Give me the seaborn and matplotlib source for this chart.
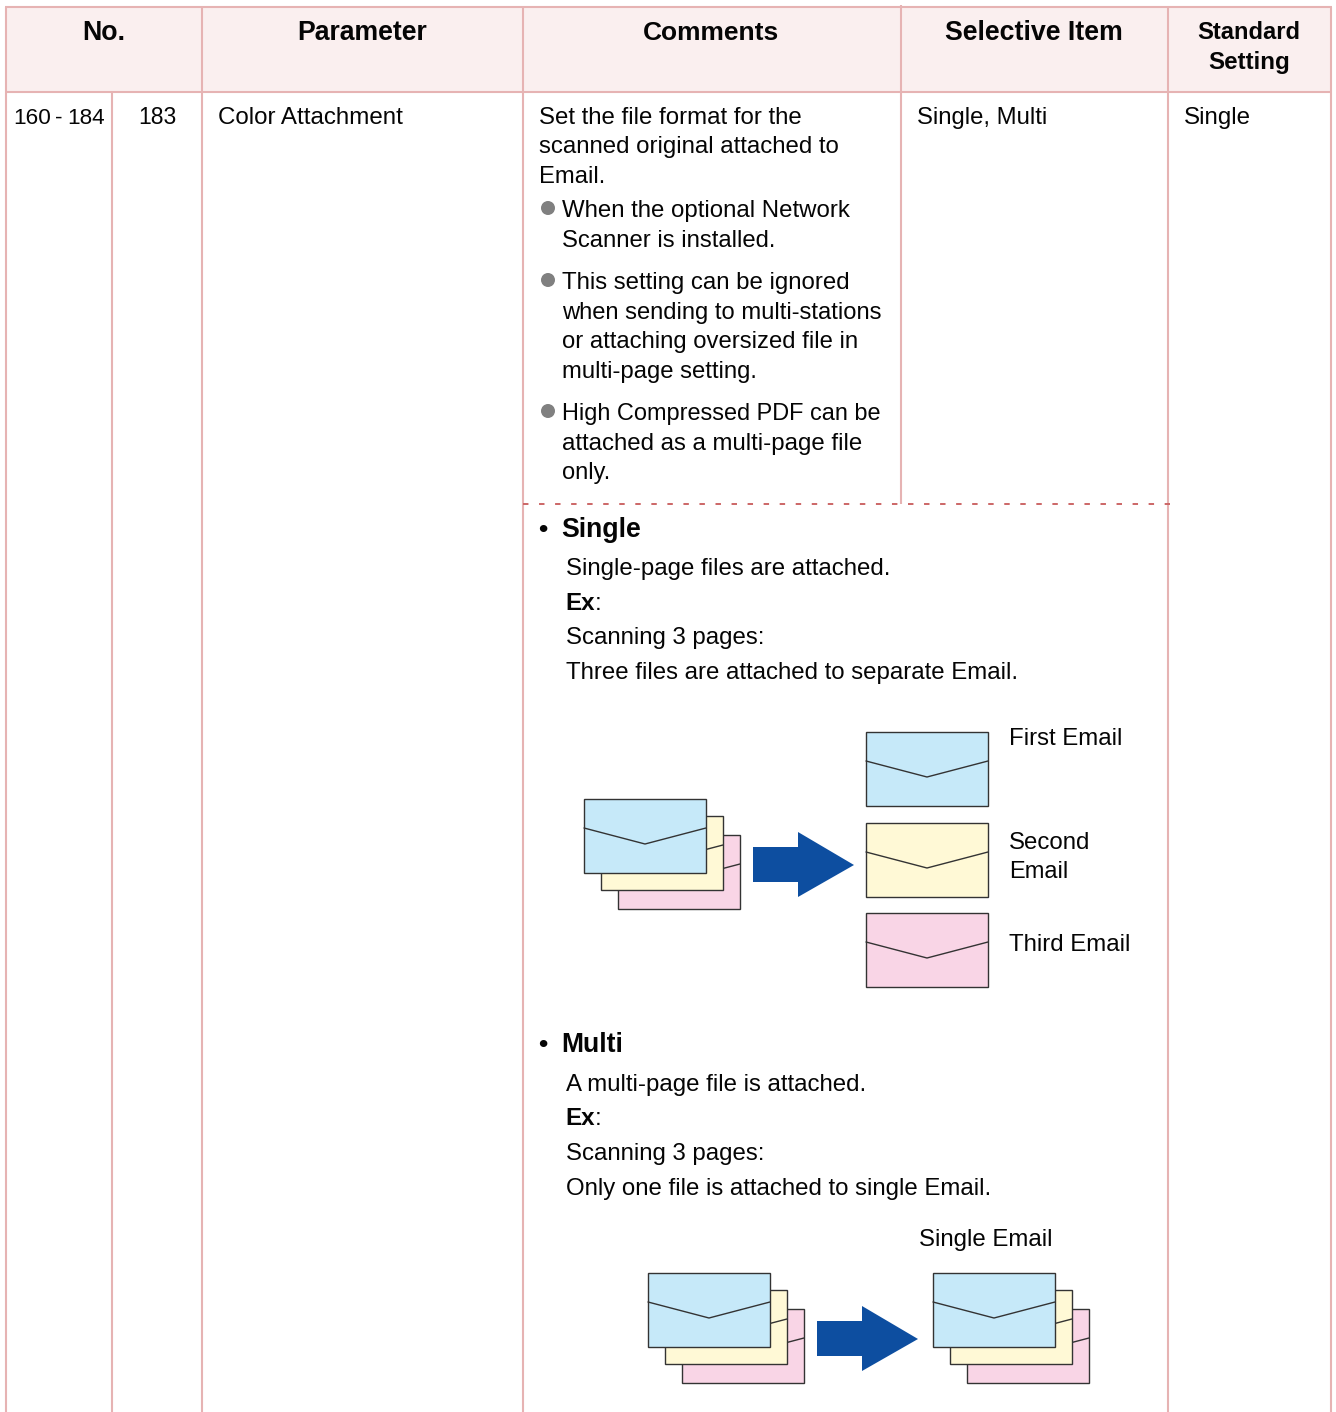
import matplotlib
matplotlib.use("Agg")
import matplotlib.pyplot as plt
from matplotlib.patches import Rectangle, Polygon, Circle
import seaborn as sns

sns.set_theme(style="white")
plt.rcParams['font.family'] = ['Liberation Sans', 'DejaVu Sans']

LINE = '#E6B3B3'; HEAD = '#FAEFEF'; DASH = '#CC6666'; INK = '#050505'
BLUE = '#C6E9F9'; YEL = '#FFF9D6'; PINK = '#F9D5E6'; ARROW = '#0D4EA0'; EDGE = '#333333'
BODY = 17.4

# text, left x, baseline y, right edge
headers = [("No.", 82, 40, 125), ("Parameter", 297, 40, 427), ("Comments", 643, 40, 779),
           ("Selective Item", 945, 40, 1123), ("Standard", 1197, 39, 1300), ("Setting", 1208, 69, 1290)]
range_parts = [("160", 13, 124), ("-", 55, 124), ("184", 67.5, 124)]
cells = [("183", 138, 124, 176),
         ("Color Attachment", 218, 124, 403), ("Single, Multi", 917, 124, 1047), ("Single", 1184, 124, 1251)]
comment_lines = [
    ("Set the file format for the", 539, 124, 801), ("scanned original attached to", 539, 153, 838),
    ("Email.", 539, 183, 605),
    ("When the optional Network", 562, 217, 849), ("Scanner is installed.", 562, 247, 775),
    ("This setting can be ignored", 562, 289, 849), ("when sending to multi-stations", 562, 319, 880),
    ("or attaching oversized file in", 562, 348, 858), ("multi-page setting.", 562, 378, 757),
    ("High Compressed PDF can be", 562, 420, 880), ("attached as a multi-page file", 562, 450, 861),
    ("only.", 562, 479, 610),
    ("Single-page files are attached.", 566, 575, 889), ("Scanning 3 pages:", 566, 644, 764),
    ("Three files are attached to separate Email.", 566, 679, 1017),
    ("First Email", 1009, 745, 1122), ("Second", 1009, 849, 1090), ("Email", 1009, 878, 1068),
    ("Third Email", 1009, 951, 1130),
    ("A multi-page file is attached.", 566, 1091, 866), ("Scanning 3 pages:", 566, 1160, 764),
    ("Only one file is attached to single Email.", 566, 1195, 990), ("Single Email", 919, 1246, 1052),
]
bullets_y = [208, 280, 411]
sections = [("•", 538, 537, 549), ("Single", 561, 537, 641), ("•", 538, 1052, 549), ("Multi", 561, 1052, 623)]
ex_lines = [(565, 610), (565, 1125)]
v_rules = [(6, 7, 1412), (112, 92, 1412), (202, 7, 1412), (523, 7, 1412), (901, 5, 504), (1168, 7, 1412), (1331, 7, 1412)]
h_rules = [7, 92]

fig = plt.figure(figsize=(13.36, 14.12), dpi=100, facecolor='white')
ax = fig.add_axes([0, 0, 1, 1])
ax.set_xlim(0, 1336); ax.set_ylim(1412, 0); ax.axis('off')
renderer = fig.canvas.get_renderer()


def fit_text(s, x, y, right, size=BODY, weight='normal'):
    t = ax.text(x, y, s, ha='left', va='baseline', fontsize=size, fontweight=weight, color=INK)
    w = t.get_window_extent(renderer).width
    t.set_fontsize(size * (right - x) / w)
    return t


ax.add_patch(Rectangle((6, 7), 1325, 85, fc=HEAD, ec='none', zorder=0))
for x, y0, y1 in v_rules:
    ax.plot([x, x], [y0, y1], color=LINE, lw=1.5, zorder=1, solid_capstyle='butt')
for y in h_rules:
    ax.plot([5, 1332], [y, y], color=LINE, lw=1.5, zorder=1, solid_capstyle='butt')
ax.plot([523, 1170], [504, 504], color=DASH, lw=1.4, dashes=(2.8, 5.45), zorder=2)

for s, x, y, r in headers:
    fit_text(s, x, y, r, size=19, weight='bold')
for s, x, y in range_parts:
    ax.text(x, y, s, ha='left', va='baseline', fontsize=16.2, color=INK)
for s, x, y, r in cells + comment_lines:
    fit_text(s, x, y, r)
for y in bullets_y:
    ax.add_patch(Circle((548, y), 7, fc='#808080', ec='none'))
for s, x, y, r in sections:
    if s == "•":
        ax.text(x, y, s, ha='left', va='baseline', fontsize=19, fontweight='bold', color=INK)
    else:
        fit_text(s, x, y, r, size=19, weight='bold')
for x, y in ex_lines:
    ax.text(x, y, "Ex", ha='left', va='baseline', fontsize=BODY, fontweight='bold', color=INK)
    ax.text(x + 30, y, ":", ha='left', va='baseline', fontsize=BODY, color=INK)


def envelope(x, y, color, z=3):
    w, h = 122, 74
    ax.add_patch(Rectangle((x, y), w, h, fc=color, ec=EDGE, lw=1.0, zorder=z))
    ax.plot([x, x + w / 2, x + w], [y + 29, y + 45, y + 29], color=EDGE, lw=1.0, zorder=z + 0.1)


def stack(x, y):
    envelope(x + 34, y + 36, PINK, 3)
    envelope(x + 17, y + 17, YEL, 4)
    envelope(x, y, BLUE, 5)


def arrow(x, y):
    ax.add_patch(Polygon([(x, y + 15), (x + 45, y + 15), (x + 45, y), (x + 101, y + 33),
                          (x + 45, y + 65), (x + 45, y + 50), (x, y + 50)],
                         closed=True, fc=ARROW, ec='none', zorder=3))


stack(584, 799)
arrow(753, 832)
envelope(866, 732, BLUE)
envelope(866, 823, YEL)
envelope(866, 913, PINK)
stack(648, 1273)
arrow(817, 1306)
stack(933, 1273)

fig.savefig("out.png", dpi=100, facecolor='white')
